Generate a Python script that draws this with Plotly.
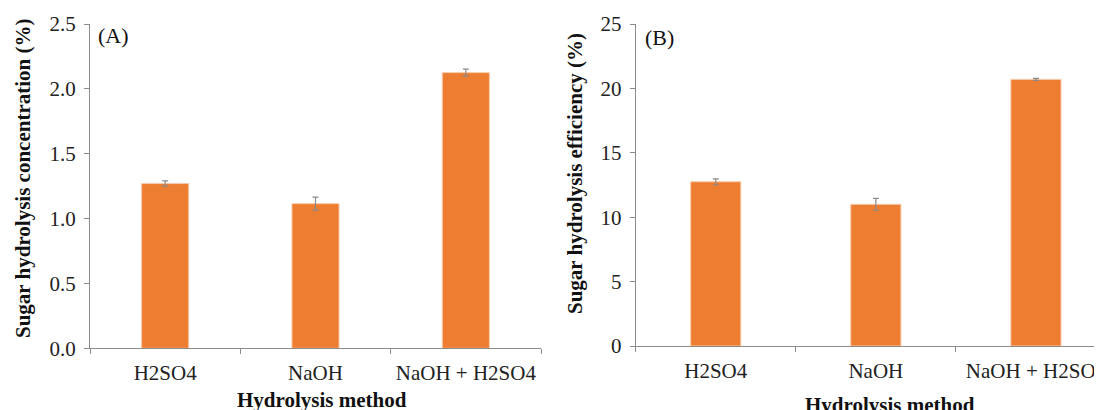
import plotly.graph_objects as go

categories = ["H2SO4", "NaOH", "NaOH + H2SO4"]
conc_values = [1.27, 1.115, 2.125]
conc_errors = [0.02, 0.05, 0.027]
eff_values = [12.75, 11.0, 20.7]
eff_errors = [0.23, 0.46, 0.08]

W, H = 1200, 410
OFF = 8  # page body margin
BAR = "#ED7D31"
FONT = "Liberation Serif"

def px_x(v):
    return (v - OFF) / W

def px_y(v):
    return (H - (v - OFF)) / H

fig = go.Figure()
fig.add_trace(go.Bar(
    x=categories, y=conc_values, xaxis="x", yaxis="y", width=0.313,
    marker=dict(color=BAR, line=dict(color="#F8C9A8", width=1)),
    error_y=dict(type="data", array=conc_errors, color="#8a8a8a", thickness=1.2, width=3),
    showlegend=False,
))
fig.add_trace(go.Bar(
    x=categories, y=eff_values, xaxis="x2", yaxis="y2", width=0.313,
    marker=dict(color=BAR, line=dict(color="#F8C9A8", width=1)),
    error_y=dict(type="data", array=eff_errors, color="#8a8a8a", thickness=1.2, width=3),
    showlegend=False,
))

axis_common = dict(showgrid=False, zeroline=False, showline=True, linecolor="#8c8c8c",
                   linewidth=1, ticks="outside", ticklen=5, tickcolor="#8c8c8c",
                   automargin=False, tickangle=0,
                   tickfont=dict(family=FONT, size=21, color="#222"))

fig.update_layout(
    width=W, height=H, margin=dict(l=0, r=0, t=0, b=0, autoexpand=False),
    plot_bgcolor="white", paper_bgcolor="white",
    xaxis=dict(domain=[px_x(90), px_x(541)], anchor="y", tickson="boundaries",
               ticklabelstandoff=5, **axis_common),
    yaxis=dict(domain=[px_y(348.3), px_y(24)], anchor="x", range=[0, 2.5], dtick=0.5,
               tickformat=".1f", ticklabelstandoff=4, **axis_common),
    xaxis2=dict(domain=[px_x(635.7), px_x(1116)], anchor="y2", tickson="boundaries",
                ticklabelstandoff=6, **axis_common),
    yaxis2=dict(domain=[px_y(346), px_y(24)], anchor="x2", range=[0, 25], dtick=5,
                ticklabelstandoff=4, **axis_common),
)

title_font = dict(family=FONT, size=21, color="#111")
ann = [
    dict(text="<b>Sugar hydrolysis concentration (%)</b>", x=px_x(23), y=px_y(178), textangle=-90, yanchor="middle"),
    dict(text="<b>Sugar hydrolysis efficiency (%)</b>", x=px_x(575), y=px_y(174), textangle=-90, yanchor="middle"),
    dict(text="<b>Hydrolysis method</b>", x=px_x(322), y=px_y(400), yanchor="middle"),
    dict(text="<b>Hydrolysis method</b>", x=px_x(890), y=px_y(405), yanchor="middle"),
]
for a in ann:
    fig.add_annotation(xref="paper", yref="paper", showarrow=False, font=title_font,
                       xanchor="center", **a)
fig.add_annotation(text="(A)", xref="paper", yref="paper", x=px_x(96), y=px_y(36),
                   xanchor="left", yanchor="middle", showarrow=False,
                   font=dict(family=FONT, size=22, color="#111"))
fig.add_annotation(text="(B)", xref="paper", yref="paper", x=px_x(643), y=px_y(38),
                   xanchor="left", yanchor="middle", showarrow=False,
                   font=dict(family=FONT, size=22, color="#111"))

fig.write_html("out.html")
